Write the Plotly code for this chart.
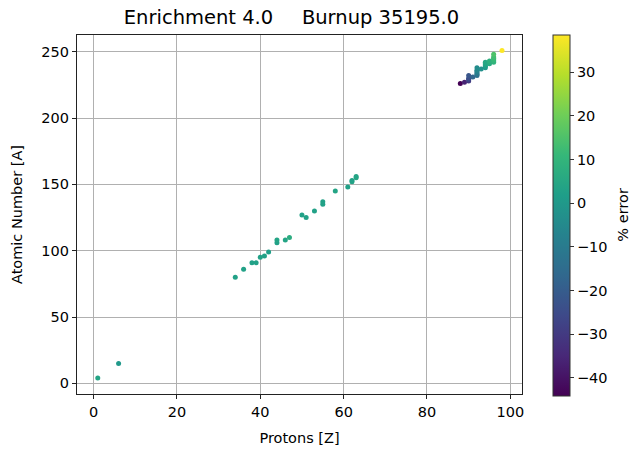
import plotly.graph_objects as go

# Data
protons_z = [1, 6,
             34, 36, 38, 39, 40, 41, 42, 44, 44, 46, 47,
             50, 51, 53, 55, 55, 58, 61, 62, 62, 63, 63,
             88, 89, 90, 90, 90, 90, 91, 92, 92, 92, 92, 92, 92, 93,
             94, 94, 94, 94, 94, 95, 95, 95, 96, 96, 96, 96, 96, 96, 98]
atomic_a = [4, 15,
            80, 86, 91, 91, 95, 96, 99, 106, 108, 108, 110,
            127, 125, 130, 137, 135, 145, 148, 152, 153, 155, 156,
            226, 227, 228, 229, 230, 232, 231, 232, 233, 234, 235, 236, 238, 237,
            238, 239, 240, 241, 242, 241, 242, 243, 242, 243, 244, 245, 246, 248, 251]
pct_error = [4, 0,
             3, 3, 3, 3, 3, 3, 2, 3, 4, 4, 7,
             3, 3, 3, 3, 3, 4, 3, 4, 3, 5, 4,
             -44.2, -36, -30, -27, -24, -22, -17, -14, -12, -10, -8, -6, -4, -3,
             0, 2, 3, 4, 5, 6, 7, 8, 9, 10, 11, 12, 13, 15, 38.5]

title_text = "Enrichment 4.0&nbsp;&nbsp;&nbsp;&nbsp;\u2009Burnup 35195.0"
x_label = "Protons [Z]"
y_label = "Atomic Number [A]"
cbar_label = "% error"
x_ticks = [0, 20, 40, 60, 80, 100]
y_ticks = [0, 50, 100, 150, 200, 250]
c_ticks = [-40, -30, -20, -10, 0, 10, 20, 30]

FONT = "DejaVu Sans"
TICK = 14.5

fig = go.Figure(
    go.Scatter(
        x=protons_z, y=atomic_a, mode="markers",
        marker=dict(
            size=5, color=pct_error, colorscale="Viridis", showscale=True,
            line=dict(width=0),
            colorbar=dict(
                thickness=17, len=1.005, lenmode="fraction", y=0.497, yanchor="middle", ypad=0,
                x=1.069, xanchor="left", xpad=0,
                outlinewidth=1, outlinecolor="#333333",
                ticks="outside", ticklen=4, tickcolor="#333333",
                tickvals=c_ticks, ticktext=[str(v).replace("-", "\u2212") for v in c_ticks],
                tickfont=dict(family=FONT, size=TICK, color="black"),
            ),
        ),
        showlegend=False,
    )
)

fig.add_annotation(
    text=cbar_label, xref="paper", yref="paper", x=1.225, y=0.5,
    xanchor="center", yanchor="middle", textangle=-90, showarrow=False,
    font=dict(family=FONT, size=TICK, color="black"),
)

fig.update_layout(
    width=631, height=454,
    margin=dict(l=77, r=109, t=35, b=60),
    paper_bgcolor="white", plot_bgcolor="white",
    font=dict(family=FONT, size=TICK, color="black"),
    title=dict(text=title_text, x=0.462, xanchor="center", y=0.9626, yanchor="middle",
               font=dict(family=FONT, size=19.5, color="black")),
    xaxis=dict(
        range=[-3.98, 102.8], tickvals=x_ticks, showgrid=True, gridcolor="#b0b0b0", gridwidth=1,
        showline=True, linecolor="#222222", linewidth=1.3, mirror=True, zeroline=False,
        ticks="outside", ticklen=4, tickcolor="#222222", automargin=False,
        tickfont=dict(family=FONT, size=TICK, color="black"),
        title=dict(text=x_label, standoff=14, font=dict(family=FONT, size=TICK, color="black")),
    ),
    yaxis=dict(
        range=[-8.0, 262.6], tickvals=y_ticks, showgrid=True, gridcolor="#b0b0b0", gridwidth=1,
        showline=True, linecolor="#222222", linewidth=1.3, mirror=True, zeroline=False,
        ticks="outside", ticklen=4, tickcolor="#222222", automargin=False,
        tickfont=dict(family=FONT, size=TICK, color="black"),
        title=dict(text=y_label, standoff=15, font=dict(family=FONT, size=TICK, color="black")),
    ),
)

fig.write_html("out.html", config={"displayModeBar": False},
               post_script="document.body.style.margin='0';")
